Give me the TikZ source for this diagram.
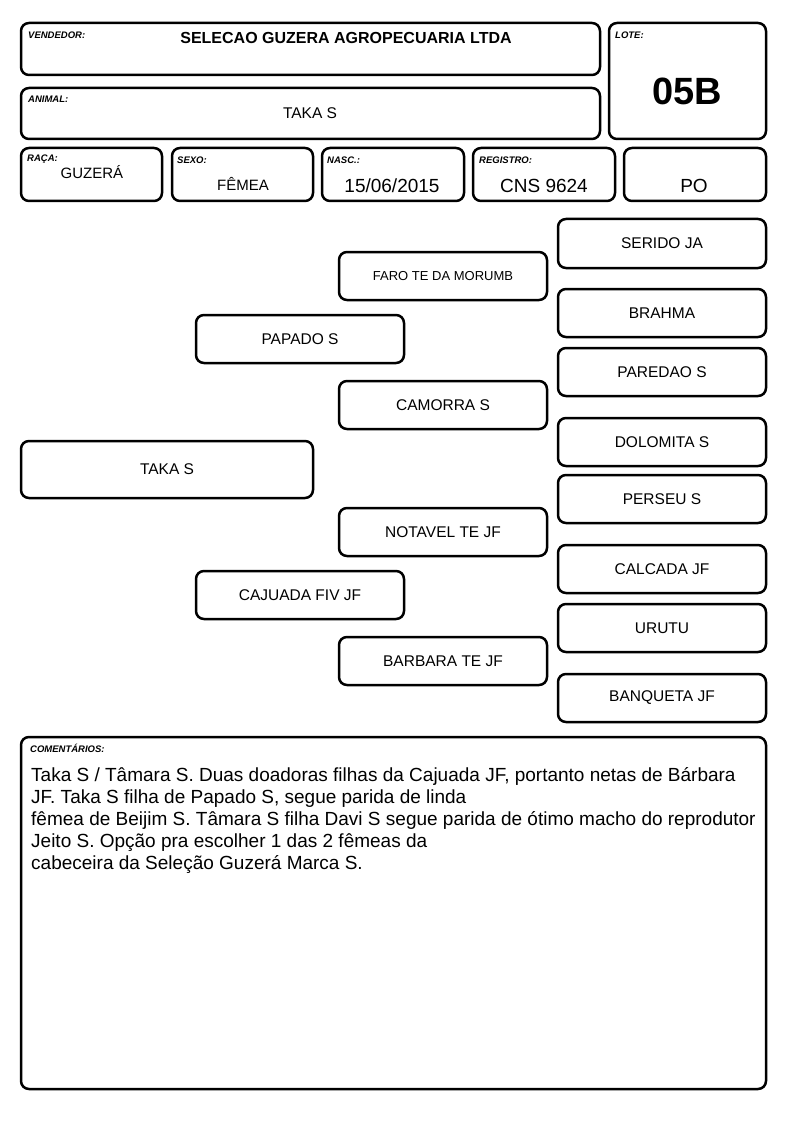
\documentclass[tikz,border=0pt]{standalone}
\usepackage{fontspec}
\setmainfont{Liberation Sans}
\begin{document}
\begin{tikzpicture}[x=1pt,y=-1pt,
  box/.style={draw=black,line width=2.5pt,rounded corners=8pt,rectangle,inner sep=0pt,fill=white},
  lbl/.style={anchor=west,inner sep=0pt,font=\fontsize{9.5}{11}\selectfont\bfseries\itshape},
  val/.style={inner sep=0pt,font=\fontsize{15.5}{18}\selectfont},
  ped/.style={box,font=\fontsize{15.5}{18}\selectfont}]
\useasboundingbox (0,0) rectangle (794,1123);
% header boxes
\node[box,minimum width=579pt,minimum height=52pt] (vend) at (310.5,49) {};
\node[lbl] (vendl) at (28,35) {VENDEDOR:};
\node[inner sep=0pt,font=\fontsize{16}{18}\selectfont\bfseries] (vendv) at (346,38) {SELECAO GUZERA AGROPECUARIA LTDA};
\node[box,minimum width=157pt,minimum height=116pt] (lote) at (687.5,81) {};
\node[lbl] (lotel) at (615,35) {LOTE:};
\node[inner sep=0pt,font=\fontsize{38}{40}\selectfont\bfseries] (lotev) at (687,91) {05B};
\node[box,minimum width=579pt,minimum height=51pt] (anim) at (310.5,113.5) {};
\node[lbl] (animl) at (28,99) {ANIMAL:};
\node[val] (animv) at (310,113) {TAKA S};
% info row
\node[box,minimum width=141pt,minimum height=53pt] (raca) at (91.5,174.5) {};
\node[lbl] (racal) at (27,159) {RAÇA:};
\node[val,font=\fontsize{15}{18}\selectfont] (racav) at (92,172) {GUZERÁ};
\node[box,minimum width=141pt,minimum height=53pt] (sexo) at (242.5,174.5) {};
\node[lbl] (sexol) at (177,160) {SEXO:};
\node[val,font=\fontsize{15}{18}\selectfont] (sexov) at (243,184) {FÊMEA};
\node[box,minimum width=142pt,minimum height=53pt] (nasc) at (393,174.5) {};
\node[lbl] (nascl) at (327,160) {NASC.:};
\node[inner sep=0pt,font=\fontsize{19}{22}\selectfont] (nascv) at (392,186) {15/06/2015};
\node[box,minimum width=142pt,minimum height=53pt] (reg) at (544,174.5) {};
\node[lbl] (regl) at (479,160) {REGISTRO:};
\node[inner sep=0pt,font=\fontsize{19}{22}\selectfont] (regv) at (544,186) {CNS 9624};
\node[box,minimum width=142pt,minimum height=53pt] (po) at (695,174.5) {};
\node[inner sep=0pt,font=\fontsize{19}{22}\selectfont] (pov) at (694,186) {PO};
% pedigree
\node[ped,minimum width=208pt,minimum height=49pt] (serido) at (662,243.5) {SERIDO JA};
\node[ped,minimum width=208pt,minimum height=48pt,font=\fontsize{13}{15}\selectfont] (faro) at (443,276) {FARO TE DA MORUMB};
\node[ped,minimum width=208pt,minimum height=48pt] (brahma) at (662,313) {BRAHMA};
\node[ped,minimum width=208pt,minimum height=48pt] (papado) at (300,339) {PAPADO S};
\node[ped,minimum width=208pt,minimum height=48pt] (paredao) at (662,372) {PAREDAO S};
\node[ped,minimum width=208pt,minimum height=48pt] (camorra) at (443,405) {CAMORRA S};
\node[ped,minimum width=208pt,minimum height=48pt] (dolomita) at (662,442) {DOLOMITA S};
\node[ped,minimum width=292pt,minimum height=57pt] (taka) at (167,469.5) {TAKA S};
\node[ped,minimum width=208pt,minimum height=48pt] (perseu) at (662,499) {PERSEU S};
\node[ped,minimum width=208pt,minimum height=48pt] (notavel) at (443,532) {NOTAVEL TE JF};
\node[ped,minimum width=208pt,minimum height=48pt] (calcada) at (662,569) {CALCADA JF};
\node[ped,minimum width=208pt,minimum height=48pt] (cajuada) at (300,595) {CAJUADA FIV JF};
\node[ped,minimum width=208pt,minimum height=48pt] (urutu) at (662,628) {URUTU};
\node[ped,minimum width=208pt,minimum height=48pt] (barbara) at (443,661) {BARBARA TE JF};
\node[ped,minimum width=208pt,minimum height=48pt] (banqueta) at (662,698) {BANQUETA JF};
% comments
\node[box,minimum width=745pt,minimum height=352pt] (com) at (393.5,913) {};
\node[lbl] (coml) at (30,748) {COMENTÁRIOS:};
\node[anchor=base west,inner sep=0pt,align=left,font=\fontsize{19}{22}\selectfont] (comv) at (31,869) {Taka S / Tâmara S. Duas doadoras filhas da Cajuada JF, portanto netas de Bárbara\\JF. Taka S filha de Papado S, segue parida de linda\\fêmea de Beijim S. Tâmara S filha Davi S segue parida de ótimo macho do reprodutor\\Jeito S. Opção pra escolher 1 das 2 fêmeas da\\cabeceira da Seleção Guzerá Marca S.};
\end{tikzpicture}
\end{document}
